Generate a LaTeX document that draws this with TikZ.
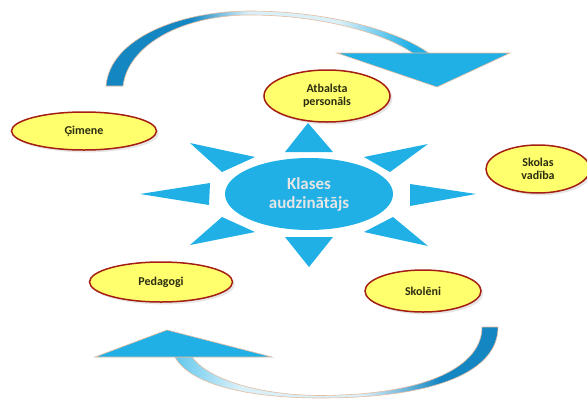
\documentclass[tikz,border=0pt]{standalone}
\usepackage{fontspec}
\setmainfont{Carlito}
\usetikzlibrary{shapes.geometric,shadows}
\definecolor{rayblue}{RGB}{32,176,230}
\definecolor{banddark}{RGB}{20,135,195}
\definecolor{bandlight}{RGB}{218,240,249}
\definecolor{edgetan}{RGB}{228,188,160}
\definecolor{ovalfill}{RGB}{255,255,110}
\definecolor{ovalline}{RGB}{165,30,20}
\definecolor{labeltext}{RGB}{45,45,15}
% shadings for the two curved arrows (middle 25bp--75bp spans the path)
\pgfdeclarehorizontalshading{upperband}{100bp}{color(0bp)=(banddark); color(38bp)=(banddark); color(47bp)=(bandlight); color(61bp)=(bandlight); color(72bp)=(rayblue); color(100bp)=(rayblue)}
\pgfdeclarehorizontalshading{lowerband}{100bp}{color(0bp)=(rayblue); color(25bp)=(rayblue!70!white); color(35bp)=(bandlight); color(54bp)=(bandlight); color(66bp)=(banddark); color(100bp)=(banddark)}
\tikzset{
    yellow-oval/.style = {draw=ovalline, fill=ovalfill, line width=1.5pt, ellipse, inner sep=0pt, align=center, text=labeltext, font=\bfseries\fontsize{12}{13}\selectfont, drop shadow={opacity=0.2}},
    center-oval/.style = {fill=rayblue, ellipse, inner sep=0pt, align=center, text=white!90!black, font=\bfseries\fontsize{17}{19}\selectfont},
    ray/.style = {fill=rayblue},
    band/.style = {draw=edgetan, line width=0.6pt},
}

\begin{document}
\begin{tikzpicture}[x=1pt, y=-1pt]
\useasboundingbox (0,0) rectangle (587,400);

% upper curved arrow
\draw[band, shading=upperband]
    (106,86) .. controls (110,38) and (180,11) .. (250,11)
    .. controls (320,11) and (395,28) .. (430,54) -- (414,54)
    .. controls (385,33) and (320,15) .. (250,15)
    .. controls (182,15) and (128,45) .. (123,86) -- cycle;
\draw[band, fill=rayblue] (337,53) -- (510,53) -- (437,87) -- cycle;

% lower curved arrow
\draw[band, shading=lowerband]
    (498,327) .. controls (498,370) and (440,398) .. (320,398)
    .. controls (250,398) and (190,385) .. (175,357) -- (192,357)
    .. controls (207,378) and (255,395) .. (320,395.5)
    .. controls (430,395) and (482,365) .. (482,327) -- cycle;
\draw[band, fill=rayblue] (95,357) -- (272,357) -- (167,330) -- cycle;

% rays round the centre
\fill[ray] (285,152) -- (333,152) -- (308,123) -- cycle;
\fill[ray] (285,237) -- (333,237) -- (309,267) -- cycle;
\fill[ray] (140,194) -- (210,183) -- (209,205) -- cycle;
\fill[ray] (410,184) -- (476,194) -- (410,206) -- cycle;
\fill[ray] (190,143) -- (255,157) -- (222,172) -- cycle;
\fill[ray] (428,144) -- (364,157) -- (390,172) -- cycle;
\fill[ray] (190,245) -- (222,217) -- (255,232) -- cycle;
\fill[ray] (428,246) -- (393,217) -- (364,232) -- cycle;

\node[center-oval, minimum width=168pt, minimum height=72pt] (teacher) at (309,194) {Klases\\audzinātājs};

\node[yellow-oval, minimum width=145pt, minimum height=38pt] (family) at (84,131) {Ģimene};
\node[yellow-oval, minimum width=126pt, minimum height=52pt] (support) at (327,96) {Atbalsta\\personāls};
\node[yellow-oval, minimum width=104pt, minimum height=48pt] (management) at (538,169) {Skolas\\vadība};
\node[yellow-oval, minimum width=143pt, minimum height=40pt] (teachers) at (161,282) {Pedagogi};
\node[yellow-oval, minimum width=116pt, minimum height=42pt] (pupils) at (423,291) {Skolēni};
\end{tikzpicture}
\end{document}
